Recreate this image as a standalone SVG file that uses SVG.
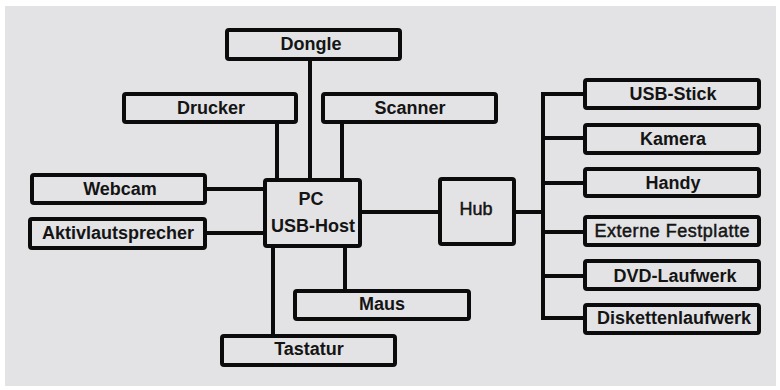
<svg xmlns="http://www.w3.org/2000/svg" width="780" height="390" viewBox="0 0 780 390">
<style>
.box{fill:none;stroke:#0b0b0b;stroke-width:4;stroke-linejoin:round}
.ln{fill:none;stroke:#0b0b0b;stroke-width:4;stroke-linejoin:miter}
.t{font-family:"Liberation Sans",Arial,sans-serif;font-size:18px;font-weight:bold;fill:#141414;text-anchor:middle}
.r{font-weight:normal;stroke:#141414;stroke-width:0.5}
</style>
<rect x="0" y="0" width="780" height="390" fill="#ffffff"/>
<rect x="5" y="6" width="771" height="380" fill="#e3e3e5"/>
<g id="connectors">
<path class="ln" d="M310,61V180"/>
<path class="ln" d="M277,124V180"/>
<path class="ln" d="M342,124V180"/>
<path class="ln" d="M207,189H265"/>
<path class="ln" d="M207,233H265"/>
<path class="ln" d="M345,246V291"/>
<path class="ln" d="M273,246V336"/>
<path class="ln" d="M362,212H440"/>
<path class="ln" d="M516,212H543"/>
<path class="ln" d="M585,94H543V318H585"/>
<path class="ln" d="M543,138H585"/>
<path class="ln" d="M543,183H585"/>
<path class="ln" d="M543,232H585"/>
<path class="ln" d="M543,276H585"/>
</g>
<g id="dongle"><rect class="box" x="227" y="30" width="173" height="29" rx="2"/><text class="t" x="311" y="50">Dongle</text></g>
<g id="drucker"><rect class="box" x="124" y="94" width="172" height="28" rx="2"/><text class="t" x="211" y="114">Drucker</text></g>
<g id="scanner"><rect class="box" x="323" y="94" width="173" height="28" rx="2"/><text class="t" x="410" y="114">Scanner</text></g>
<g id="webcam"><rect class="box" x="32" y="175" width="173" height="28" rx="2"/><text class="t" x="120" y="195">Webcam</text></g>
<g id="aktivlautsprecher"><rect class="box" x="30" y="219" width="175" height="29" rx="2"/><text class="t" x="118" y="239">Aktivlautsprecher</text></g>
<g id="pc"><rect class="box" x="265" y="180" width="95" height="66" rx="2"/><text class="t" x="311" y="205">PC</text><text class="t" x="313" y="232">USB-Host</text></g>
<g id="maus"><rect class="box" x="295" y="291" width="174" height="28" rx="2"/><text class="t" x="382" y="310">Maus</text></g>
<g id="tastatur"><rect class="box" x="222" y="336" width="173" height="29" rx="2"/><text class="t" x="309" y="355">Tastatur</text></g>
<g id="hub"><rect class="box" x="440" y="179" width="74" height="65" rx="2"/><text class="t r" x="476" y="215">Hub</text></g>
<g id="usb-stick"><rect class="box" x="585" y="80" width="174" height="28" rx="2"/><text class="t" x="673" y="100">USB-Stick</text></g>
<g id="kamera"><rect class="box" x="585" y="125" width="174" height="28" rx="2"/><text class="t" x="673" y="145">Kamera</text></g>
<g id="handy"><rect class="box" x="585" y="169" width="174" height="27" rx="2"/><text class="t" x="673" y="189">Handy</text></g>
<g id="externe-festplatte"><rect class="box" x="585" y="217" width="174" height="28" rx="2"/><text class="t r" x="672" y="237" textLength="155" lengthAdjust="spacing">Externe Festplatte</text></g>
<g id="dvd-laufwerk"><rect class="box" x="585" y="261" width="174" height="28" rx="2"/><text class="t" x="675" y="282">DVD-Laufwerk</text></g>
<g id="diskettenlaufwerk"><rect class="box" x="585" y="305" width="174" height="28" rx="2"/><text class="t" x="674" y="324">Diskettenlaufwerk</text></g>
</svg>
